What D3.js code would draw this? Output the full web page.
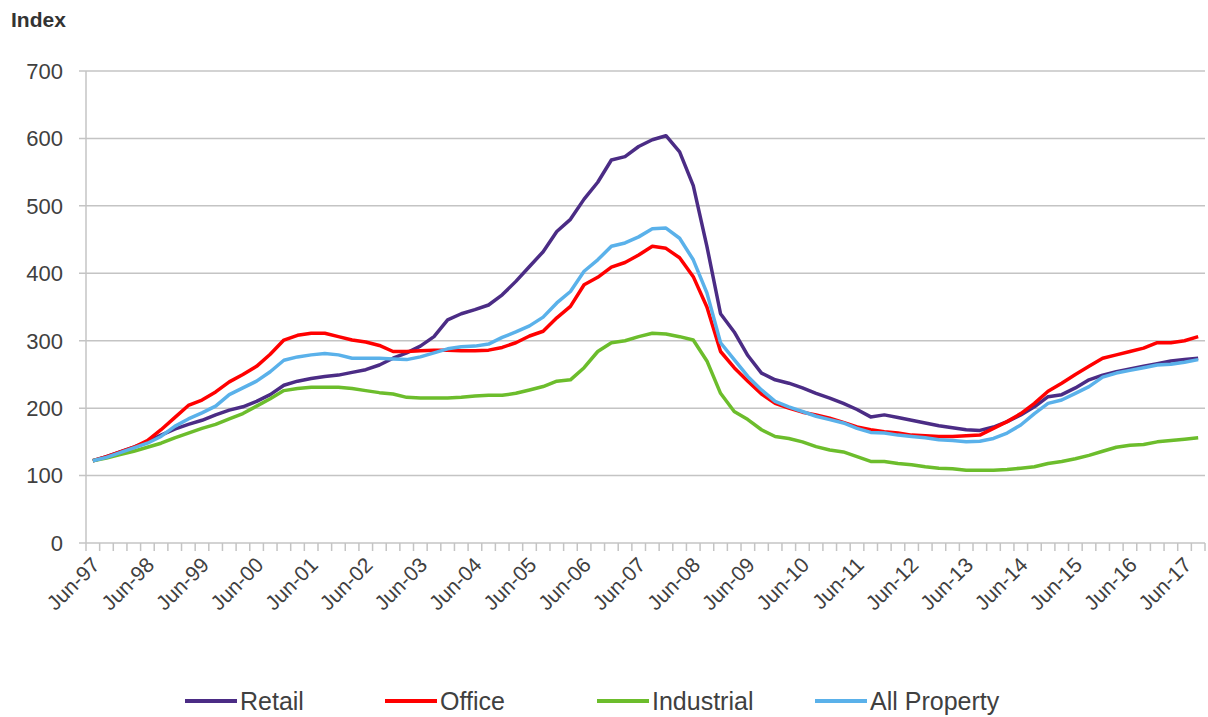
<!DOCTYPE html>
<html>
<head>
<meta charset="utf-8">
<script src="https://cdn.jsdelivr.net/npm/d3@7"></script>
<style>
  body { margin: 0; background: #fff; }
  text { font-family: "Liberation Sans", Arial, sans-serif; }
</style>
</head>
<body>
<div id="chart"></div>
<script>
// Quarterly property capital value indices, Jun-97 to Sep-17
var quarters = d3.timeMonth.range(new Date(1997, 5, 1), new Date(2017, 9, 1), 3)
  .map(d3.timeFormat("%b-%y"));

var retail = [122, 128, 135, 142, 150, 160, 169, 176, 182, 190, 197, 202, 210, 220, 234, 240,
  244, 247, 249, 253, 257, 264, 274, 282, 292, 306, 331, 340, 346, 353, 368, 388,
  410, 432, 462, 480, 510, 535, 568, 573, 588, 598, 604, 580, 530, 440, 340, 313,
  278, 252, 242, 237, 230, 222, 215, 207, 198, 187, 190, 186, 182, 178, 174, 171,
  168, 167, 172, 180, 190, 202, 217, 220, 230, 242, 249, 254, 258, 262, 266, 270,
  272, 274];
var office = [122, 128, 135, 142, 152, 168, 186, 204, 212, 224, 239, 250, 262, 280, 301, 308,
  311, 311, 306, 301, 298, 293, 284, 284, 285, 286, 286, 285, 285, 286, 290, 297,
  307, 314, 334, 351, 383, 394, 409, 416, 427, 440, 437, 423, 395, 350, 284, 260,
  240, 221, 207, 200, 194, 190, 185, 179, 172, 168, 165, 163, 160, 159, 158, 158,
  159, 160, 170, 180, 192, 207, 225, 237, 250, 262, 274, 279, 284, 289, 297, 297,
  300, 306];
var industrial = [122, 126, 131, 136, 142, 148, 156, 163, 170, 176, 184, 192, 203, 214, 226, 229,
  231, 231, 231, 229, 226, 223, 221, 216, 215, 215, 215, 216, 218, 219, 219, 222,
  227, 232, 240, 242, 260, 284, 297, 300, 306, 311, 310, 306, 301, 270, 222, 195,
  183, 168, 158, 155, 150, 143, 138, 135, 128, 121, 121, 118, 116, 113, 111, 110,
  108, 108, 108, 109, 111, 113, 118, 121, 125, 130, 136, 142, 145, 146, 150, 152,
  154, 156];
var allProperty = [122, 127, 134, 141, 148, 158, 173, 184, 193, 203, 220, 230, 240, 254, 271, 276,
  279, 281, 279, 274, 274, 274, 273, 272, 276, 282, 288, 291, 292, 295, 305, 313,
  322, 335, 356, 373, 403, 420, 440, 445, 454, 466, 467, 452, 420, 371, 297, 272,
  247, 227, 210, 202, 195, 188, 183, 178, 170, 164, 163, 160, 158, 156, 153, 152,
  150, 151, 155, 163, 175, 192, 207, 212, 222, 232, 246, 252, 256, 260, 264, 265,
  268, 272];

var seriesNames = ["Retail", "Office", "Industrial", "All Property"];
var seriesColors = ["#4B2C85", "#FF0000", "#6CBD2C", "#5AB1EA"];
var yTicks = [0, 100, 200, 300, 400, 500, 600, 700];

var series = [retail, office, industrial, allProperty].map(function(vals, k) {
  return { name: seriesNames[k], color: seriesColors[k], values: vals };
});

var svgWidth = 1208, svgHeight = 717;
var margin = { top: 71, right: 3, bottom: 174, left: 86 };
var width = svgWidth - margin.left - margin.right;
var height = svgHeight - margin.top - margin.bottom;

var svg = d3.select("#chart").append("svg")
  .attr("width", svgWidth)
  .attr("height", svgHeight);

var chartGroup = svg.append("g")
  .attr("transform", `translate(${margin.left}, ${margin.top})`);

var xScale = d3.scaleBand().domain(quarters).range([0, width]).padding(0);
var yScale = d3.scaleLinear().domain([0, 700]).range([height, 0]);

// gridlines + left ticks
chartGroup.append("g")
  .selectAll("line")
  .data(yTicks)
  .enter()
  .append("line")
  .attr("x1", -7)
  .attr("x2", width)
  .attr("y1", d => yScale(d))
  .attr("y2", d => yScale(d))
  .attr("stroke", "#c4c4c4")
  .attr("stroke-width", 1.5);

chartGroup.append("g")
  .selectAll("text")
  .data(yTicks)
  .enter()
  .append("text")
  .attr("x", -23)
  .attr("y", d => yScale(d))
  .attr("dy", "0.36em")
  .attr("text-anchor", "end")
  .attr("fill", "#404040")
  .style("font-size", "22px")
  .text(d => d);

// y axis line
chartGroup.append("line")
  .attr("x1", 0).attr("x2", 0)
  .attr("y1", 0).attr("y2", height)
  .attr("stroke", "#c4c4c4")
  .attr("stroke-width", 1.5);

// x axis: quarterly tick marks between categories
var tickPos = quarters.map(q => xScale(q)).concat([width]);
chartGroup.append("g")
  .selectAll("line")
  .data(tickPos)
  .enter()
  .append("line")
  .attr("x1", d => d).attr("x2", d => d)
  .attr("y1", height).attr("y2", height + 8)
  .attr("stroke", "#c4c4c4")
  .attr("stroke-width", 1.5);

var labelled = quarters.filter((q, i) => i % 4 === 0);
chartGroup.append("g")
  .selectAll("text")
  .data(labelled)
  .enter()
  .append("text")
  .attr("transform", d => `translate(${xScale(d) + xScale.bandwidth() / 2 + 3}, ${height + 18}) rotate(-45)`)
  .attr("text-anchor", "end")
  .attr("dy", "0.35em")
  .attr("fill", "#404040")
  .style("font-size", "21px")
  .text(d => d);

// lines
var line = d3.line()
  .x((d, i) => xScale(quarters[i]) + xScale.bandwidth() / 2)
  .y(d => yScale(d));

chartGroup.selectAll(".series")
  .data(series)
  .enter()
  .append("path")
  .attr("class", "series")
  .attr("d", d => line(d.values))
  .attr("fill", "none")
  .attr("stroke", d => d.color)
  .attr("stroke-width", 3.5)
  .attr("stroke-linejoin", "round");

// y axis title
svg.append("text")
  .attr("x", 11)
  .attr("y", 27)
  .attr("fill", "#333")
  .style("font-size", "21px")
  .style("font-weight", "bold")
  .text("Index");

// legend
var legendX = [185, 385, 597, 815];
var legend = svg.append("g").selectAll("g")
  .data(series)
  .enter()
  .append("g")
  .attr("transform", (d, i) => `translate(${legendX[i]}, 701)`);

legend.append("line")
  .attr("x1", 0).attr("x2", 52)
  .attr("stroke", d => d.color)
  .attr("stroke-width", 4);

legend.append("text")
  .attr("x", 55)
  .attr("dy", "0.35em")
  .attr("fill", "#404040")
  .style("font-size", "25px")
  .text(d => d.name);
</script>
</body>
</html>
